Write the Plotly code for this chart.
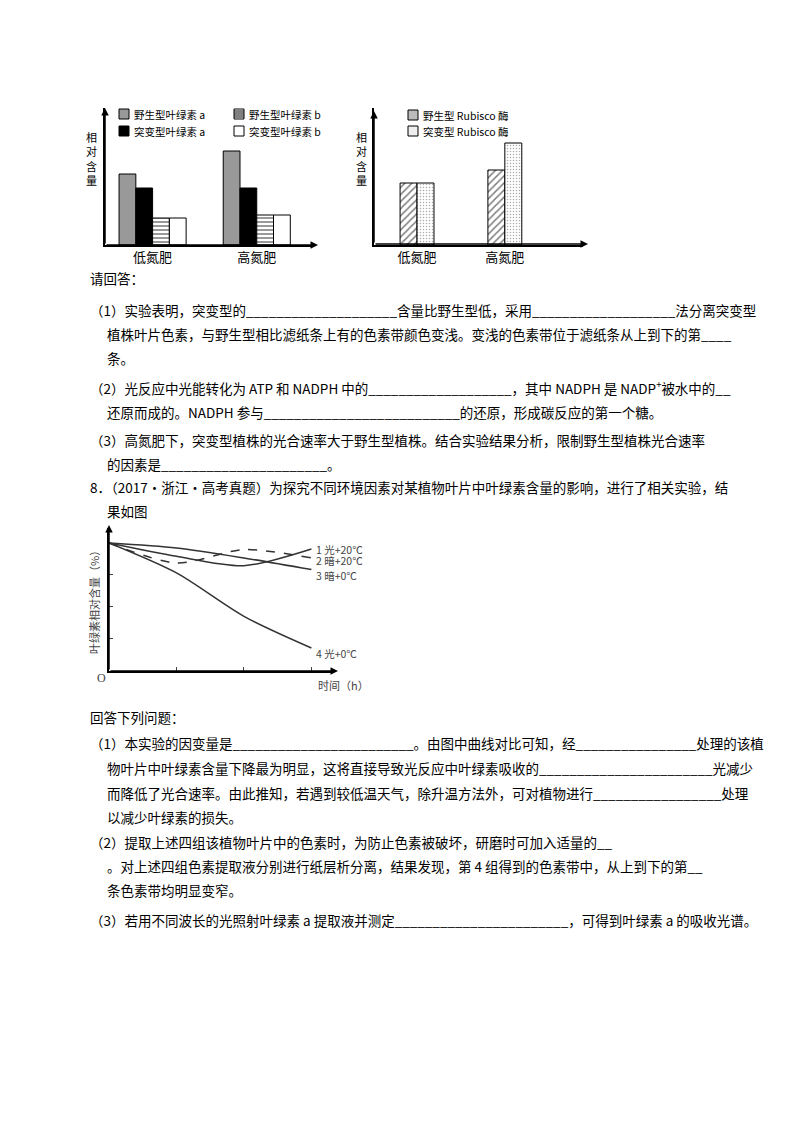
import plotly.graph_objects as go

W, H = 800, 1132
def fx(p): return p / W
def fy(p): return 1 - p / H

# ---------- data ----------
groups = ['低氮肥', '高氮肥']
chl_names = ['野生型叶绿素 a', '突变型叶绿素 a', '野生型叶绿素 b', '突变型叶绿素 b']
chl_vals = [[71, 94], [57, 57], [27, 30], [27, 30]]
rub_names = ['野生型 Rubisco 酶', '突变型 Rubisco 酶']
rub_vals = [[62, 75], [62, 102]]
hours = [0, 1, 2, 3]
line_names = ['1 光+20℃', '2 暗+20℃', '3 暗+0℃', '4 光+0℃']
line_vals = [[100, 89.6, 82.3, 95.3],
             [100, 84.4, 94.8, 88.3],
             [100, 96.1, 88.3, 79.2],
             [100, 76.6, 42.7, 18.0]]

fig = go.Figure()
FONT = "Noto Sans CJK SC"

# chart 1
c1_style = [dict(color='#999999', pattern=None), dict(color='black', pattern=None),
            dict(color='white', pattern=dict(shape='-', fgcolor='black', size=4, solidity=0.4)),
            dict(color='white', pattern=None)]
c1_off = [-0.322, -0.161, 0.0, 0.161]
for n, v, st, o in zip(chl_names, chl_vals, c1_style, c1_off):
    m = dict(color=st['color'], line=dict(color='black', width=1))
    if st['pattern']: m['pattern'] = st['pattern']
    fig.add_bar(x=groups, y=v, name=n, width=0.161, offset=o, marker=m,
                xaxis='x', yaxis='y', showlegend=False)
# chart 2
c2_pat = [dict(shape='/', fgcolor='black', size=5, solidity=0.3),
          dict(shape='.', fgcolor='#555555', size=3, solidity=0.2)]
for n, v, p, o in zip(rub_names, rub_vals, c2_pat, [-0.193, 0.0]):
    fig.add_bar(x=groups, y=v, name=n, width=0.193, offset=o,
                marker=dict(color='white', pattern=p, line=dict(color='black', width=1)),
                xaxis='x2', yaxis='y2', showlegend=False)
# chart 3
dashes = ['solid', 'dash', 'solid', 'solid']
for n, v, d in zip(line_names, line_vals, dashes):
    fig.add_scatter(x=hours, y=v, mode='lines', name=n, line=dict(color='#333333', width=1.5, dash=d, shape='spline', smoothing=0.8),
                    xaxis='x3', yaxis='y3', showlegend=False)

ax = dict(showgrid=False, zeroline=False, showline=True, linecolor='black', linewidth=1.5, fixedrange=True)
fig.update_layout(
    width=W, height=H, margin=dict(l=0, r=0, t=0, b=0), paper_bgcolor='white', plot_bgcolor='rgba(0,0,0,0)',
    barmode='overlay', font=dict(family=FONT, color='black', size=13),
    xaxis=dict(**ax, domain=[fx(97), fx(305)], anchor='y', range=[-0.457, 1.54], type='category',
               tickfont=dict(size=13), ticks=''),
    yaxis=dict(**ax, domain=[fy(237), fy(100)], anchor='x', range=[0, 137], showticklabels=False),
    xaxis2=dict(**ax, domain=[fx(366), fx(575)], anchor='y2', range=[-0.49, 1.89], type='category',
                tickfont=dict(size=13), ticks=''),
    yaxis2=dict(**ax, domain=[fy(237), fy(100)], anchor='x2', range=[0, 137], showticklabels=False),
    xaxis3=dict(**ax, domain=[fx(101), fx(325)], anchor='y3', range=[0, 3.32], tickvals=[1, 2, 3],
                ticks='inside', ticklen=4, showticklabels=False),
    yaxis3=dict(**ax, domain=[fy(663), fy(520)], anchor='x3', range=[0, 111.7], tickvals=[25, 50, 75],
                ticks='inside', ticklen=4, showticklabels=False),
)

shapes = []
anns = []
def txt(x, y, s, size=13.5, color='black', **kw):
    anns.append(dict(x=fx(x), y=fy(y), xref='paper', yref='paper', text=s, showarrow=False,
                     xanchor=kw.pop('xanchor', 'left'), yanchor=kw.pop('yanchor', 'middle'),
                     font=dict(size=size, color=color, family=kw.pop('family', FONT)), **kw))
def arrow(x0, y0, x1, y1):
    anns.append(dict(x=fx(x1), y=fy(y1), ax=x0 - x1, ay=y0 - y1, xref='paper', yref='paper',
                     axref='pixel', ayref='pixel', text='', showarrow=True, arrowhead=2,
                     arrowsize=1, arrowwidth=1.5, arrowcolor='black'))
def box(x, y, fill):
    shapes.append(dict(type='rect', xref='paper', yref='paper', x0=fx(x), x1=fx(x + 10), y0=fy(y + 5), y1=fy(y - 5),
                       line=dict(color='black', width=1), fillcolor=fill))

# chart1/2 decorations
arrow(97, 237, 97, 100); arrow(97, 237, 310, 237)
arrow(366, 236, 366, 103); arrow(366, 236, 580, 236)
txt(83, 150, '相<br>对<br>含<br>量', size=11, xanchor='center')
txt(353, 150, '相<br>对<br>含<br>量', size=11, xanchor='center')
legend1 = [(111, 106, '#999999', chl_names[0]), (111, 123, 'black', chl_names[1]),
           (226, 106, 'white', chl_names[2]), (226, 123, 'white', chl_names[3])]
for x, y, c, n in legend1:
    box(x, y, c); txt(x + 13, y, n, size=10.5)
for yy in [103, 105, 107, 109]:
    shapes.append(dict(type='line', xref='paper', yref='paper', x0=fx(226), x1=fx(236), y0=fy(yy), y1=fy(yy),
                       line=dict(color='black', width=1)))
for i, (y, n) in enumerate([(107, rub_names[0]), (123, rub_names[1])]):
    box(400, y, '#bbbbbb' if i == 0 else '#eeeeee'); txt(413, y, n, size=10.5)

# chart3 decorations
arrow(101, 663, 101, 517); arrow(101, 663, 330, 663)
txt(86, 592, '叶绿素相对含量（%）', size=11, color='#444444', xanchor='center', textangle=-90)
txt(93, 670, 'O', size=12, color='#444444', xanchor='center', family='Liberation Serif')
txt(308, 677, '时间（h）', size=11, color='#444444')
for y, n in [(541, line_names[0]), (553, line_names[1]), (567, line_names[2]), (645, line_names[3])]:
    txt(306, y, n, size=10.5, color='#444444')

# body text
U = lambda n: '_' * n
lines = [
    (80, 270, '请回答：'),
    (80, 302, '（1）实验表明，突变型的' + U(20) + '含量比野生型低，采用' + U(19) + '法分离突变型'),
    (97, 326, '植株叶片色素，与野生型相比滤纸条上有的色素带颜色变浅。变浅的色素带位于滤纸条从上到下的第' + U(4)),
    (97, 350, '条。'),
    (80, 380, '（2）光反应中光能转化为 ATP 和 NADPH 中的' + U(19) + '，其中 NADPH 是 NADP<sup>+</sup>被水中的' + U(2)),
    (97, 404, '还原而成的。NADPH 参与' + U(26) + '的还原，形成碳反应的第一个糖。'),
    (80, 432, '（3）高氮肥下，突变型植株的光合速率大于野生型植株。结合实验结果分析，限制野生型植株光合速率'),
    (97, 456, '的因素是' + U(22) + '。'),
    (80, 479, '8．（2017·浙江·高考真题）为探究不同环境因素对某植物叶片中叶绿素含量的影响，进行了相关实验，结'),
    (97, 503, '果如图'),
    (80, 709, '回答下列问题：'),
    (80, 735, '（1）本实验的因变量是' + U(24) + '。由图中曲线对比可知，经' + U(16) + '处理的该植'),
    (97, 760, '物叶片中叶绿素含量下降最为明显，这将直接导致光反应中叶绿素吸收的' + U(23) + '光减少'),
    (97, 785, '而降低了光合速率。由此推知，若遇到较低温天气，除升温方法外，可对植物进行' + U(17) + '处理'),
    (97, 809, '以减少叶绿素的损失。'),
    (80, 834, '（2）提取上述四组该植物叶片中的色素时，为防止色素被破坏，研磨时可加入适量的' + U(2)),
    (97, 858, '。对上述四组色素提取液分别进行纸层析分离，结果发现，第 4 组得到的色素带中，从上到下的第' + U(2)),
    (97, 882, '条色素带均明显变窄。'),
    (80, 912, '（3）若用不同波长的光照射叶绿素 a 提取液并测定' + U(23) + '，可得到叶绿素 a 的吸收光谱。'),
]
for x, y, s in lines:
    txt(x, y, s, size=13.5)

fig.update_layout(shapes=shapes, annotations=anns)
fig.write_html("out.html")
